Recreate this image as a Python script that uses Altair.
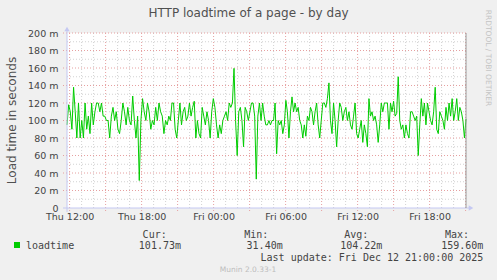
import altair as alt
import pandas as pd

# ---------------- data ----------------
TITLE = "HTTP loadtime of a page - by day"
Y_TITLE = "Load time in seconds"
SERIES = "loadtime"
CUR, MIN, AVG, MAX = "101.73m", "31.40m", "104.22m", "159.60m"
LAST_UPDATE = "Last update: Fri Dec 12 21:00:00 2025"
FOOTER = "Munin 2.0.33-1"
WATERMARK = "RRDTOOL / TOBI OETIKER"

seg1 = [95, 118, 110, 90, 138, 110, 80, 120, 80, 100, 80, 120, 90, 105, 85, 120, 95, 110, 120, 120,
        110, 120, 105, 105, 100, 100, 80, 105, 115, 100, 110, 90, 85, 100, 120, 110, 95, 115, 100, 95,
        128, 100, 80, 105, 31.4, 100, 125, 110, 100, 120, 110, 90, 100, 95, 115, 100, 120, 110, 105, 85, 100]
seg2 = [95, 105, 100, 120, 120, 90, 80, 100, 120, 95, 110, 115, 100, 105, 120, 105, 115, 122, 80, 100,
        85, 80, 115, 105, 95, 110, 100, 80, 110, 125, 115, 95, 80, 95, 85, 100, 105, 110, 100, 120,
        115, 120, 159.6, 100, 60, 110, 115, 100, 70, 115, 110, 100, 110, 120, 120, 105, 33, 105, 120, 100,
        120, 105, 95]
seg3 = [95, 100, 95, 100, 100, 120, 62, 100, 95, 100, 85, 95, 123, 110, 80, 110, 127, 110, 120, 110,
        115, 100, 95, 80, 95, 82, 105, 100, 115, 110, 95, 110, 120, 95, 80, 100, 120, 120, 115, 125,
        143, 100, 85, 120, 100, 70, 100, 120, 115, 100, 110, 115, 100, 110, 95, 90, 105, 120, 85, 80,
        90, 100, 75, 95, 85]
seg4 = [70, 125, 105, 110, 100, 105, 95, 75, 95, 120, 110, 120, 120, 120, 90, 120, 110, 122, 105, 108,
        150, 100, 90, 95, 80, 95, 85, 80, 110, 110, 105, 100, 105, 60, 95, 125, 105, 120, 95, 120,
        110, 100, 95, 110, 138, 90, 85, 110, 105, 100, 90, 115, 100, 120, 105, 125, 100, 110, 125, 100,
        115, 110, 100, 80, 101.73]
# time span covered by each segment of readings
SEG_BOUNDS = ["2025-12-11 11:47", "2025-12-11 20:08", "2025-12-12 04:29", "2025-12-12 12:49",
              "2025-12-12 21:02"]

START = "2025-12-11 11:47"
END = "2025-12-12 21:02"
Y_TICKS = [0, 20, 40, 60, 80, 100, 120, 140, 160, 180, 200]
Y_MINOR = [10, 30, 50, 70, 90, 110, 130, 150, 170, 190]
X_LABEL_TIMES = ["2025-12-11 12:00", "2025-12-11 18:00", "2025-12-12 00:00",
                 "2025-12-12 06:00", "2025-12-12 12:00", "2025-12-12 18:00"]

# ---------------- build ----------------
W, H = 399, 175
segs = [seg1, seg2, seg3, seg4]
all_t, all_v = [], []
for k, seg in enumerate(segs):
    last = k == len(segs) - 1
    n = len(seg)
    t = pd.date_range(SEG_BOUNDS[k], SEG_BOUNDS[k + 1], periods=n if last else n + 1)
    all_t.extend(list(t[:n]))
    all_v.extend(seg)
df = pd.DataFrame({"time": all_t, "ms": all_v})

hours = pd.date_range("2025-12-11 12:00", "2025-12-12 21:00", freq="h")
major_t = pd.DataFrame({"t": [h for h in hours if h.hour % 3 == 0]})
minor_t = pd.DataFrame({"t": [h for h in hours if h.hour % 3 != 0]})
major_y = pd.DataFrame({"v": Y_TICKS[1:]})
minor_y = pd.DataFrame({"v": Y_MINOR})


def dt(s):
    t = pd.Timestamp(s)
    return alt.DateTime(year=t.year, month=t.month, date=t.day, hours=t.hour, minutes=t.minute)


x_scale = alt.Scale(domain=[dt(START), dt(END)])
y_scale = alt.Scale(domain=[0, 200], nice=False, zero=True)

FONT = "DejaVu Sans"
MONO = "DejaVu Sans Mono"
TXT = "#444444"

x_axis = alt.Axis(values=[dt(s) for s in X_LABEL_TIMES], format="%a %H:%M", labelFont=FONT,
                  labelFontSize=9.5, labelColor=TXT, domain=False, ticks=False, grid=False,
                  labelPadding=3, labelFlush=False, labelOverlap=False, title=None)
y_axis = alt.Axis(values=Y_TICKS, labelExpr="datum.value == 0 ? '0' : datum.value + ' m'",
                  labelFont=FONT, labelFontSize=9.5, labelColor=TXT, domain=False, ticks=False,
                  grid=False, labelPadding=9, labelOverlap=False, title=None)


def X(field):
    return alt.X(field, type="temporal", scale=x_scale, axis=x_axis)


def Y(field):
    return alt.Y(field, type="quantitative", scale=y_scale, axis=y_axis)


MAJ = "#E6A0A0"
MINC = "#D2D2D2"
DASH = [1, 2]

vminor = alt.Chart(minor_t).mark_rule(color=MINC, strokeDash=DASH, strokeWidth=1).encode(
    x=X("t"), y=alt.value(0), y2=alt.value(H))
vmajor = alt.Chart(major_t).mark_rule(color=MAJ, strokeDash=DASH, strokeWidth=1).encode(
    x=X("t"), y=alt.value(0), y2=alt.value(H + 4))
hminor = alt.Chart(minor_y).mark_rule(color=MINC, strokeDash=DASH, strokeWidth=1).encode(
    y=Y("v"), x=alt.value(0), x2=alt.value(W))
hmajor = alt.Chart(major_y).mark_rule(color=MAJ, strokeDash=DASH, strokeWidth=1).encode(
    y=Y("v"), x=alt.value(-4), x2=alt.value(W))

line = alt.Chart(df).mark_line(color="#00CC00", strokeWidth=1).encode(x=X("time"), y=Y("ms"))

one = pd.DataFrame({"a": [1]})
AX = "#C4C8F2"
left_axis = alt.Chart(one).mark_rule(color=AX, strokeWidth=1).encode(
    x=alt.value(0), y=alt.value(-3), y2=alt.value(H + 4))
bottom_axis = alt.Chart(one).mark_rule(color=AX, strokeWidth=1).encode(
    y=alt.value(H), x=alt.value(-4), x2=alt.value(W + 4))
up_arrow = alt.Chart(one).mark_point(shape="triangle-up", filled=True, color=AX, size=28, opacity=1).encode(
    x=alt.value(0), y=alt.value(-4))
right_arrow = alt.Chart(one).mark_point(shape="triangle-right", filled=True, color=AX, size=28, opacity=1).encode(
    x=alt.value(W + 5), y=alt.value(H))
border = alt.Chart(one).mark_rule(color="#9A9A9A", strokeWidth=1).encode(
    x=alt.value(W), y=alt.value(0), y2=alt.value(H))


def text(s, x, y, font=FONT, size=10, color=TXT, align="left", angle=0, baseline="alphabetic"):
    return alt.Chart(one).mark_text(font=font, fontSize=size, color=color, align=align,
                                    baseline=baseline, angle=angle).encode(
        x=alt.value(x), y=alt.value(y), text=alt.value(s))


title = text(TITLE, 181.5, -16, size=12, color="#505050", align="center")
ytitle = text(Y_TITLE, -55, H / 2, size=12, color="#505050", align="center", angle=270, baseline="middle")
watermark = text(WATERMARK, 421, 25, size=7.5, color="#C4C4C4", align="center", angle=90, baseline="middle")

legend_sq = alt.Chart(one).mark_square(color="#00CC00", size=36, opacity=1).encode(
    x=alt.value(-50), y=alt.value(212))
leg = [
    text(SERIES, -41, 216, font=MONO),
    text("Cur:", 99.7, 204.5, font=MONO, align="right"),
    text(CUR, 114, 216, font=MONO, align="right"),
    text("Min:", 201.3, 204.5, font=MONO, align="right"),
    text(MIN, 215.7, 216, font=MONO, align="right"),
    text("Avg:", 301.3, 204.5, font=MONO, align="right"),
    text(AVG, 315.3, 216, font=MONO, align="right"),
    text("Max:", 402, 204.5, font=MONO, align="right"),
    text(MAX, 416.3, 216, font=MONO, align="right"),
    text(LAST_UPDATE, 416.3, 227.5, font=MONO, align="right"),
    text(FOOTER, 181, 238.5, size=7.5, color="#BDBDBD", align="center"),
]

chart = alt.layer(
    vminor, vmajor, hminor, hmajor, line, left_axis, bottom_axis, up_arrow, right_arrow, border,
    title, ytitle, watermark, legend_sq, *leg
).properties(
    width=W, height=H,
    padding={"left": 67, "top": 33, "right": 31, "bottom": 72},
    autosize=alt.AutoSizeParams(type="none"),
    background="#F0F0F0",
).configure_view(strokeWidth=0, fill="white").configure_axis(grid=False)

chart.save("out.html", embed_options={"renderer": "svg", "actions": False})
